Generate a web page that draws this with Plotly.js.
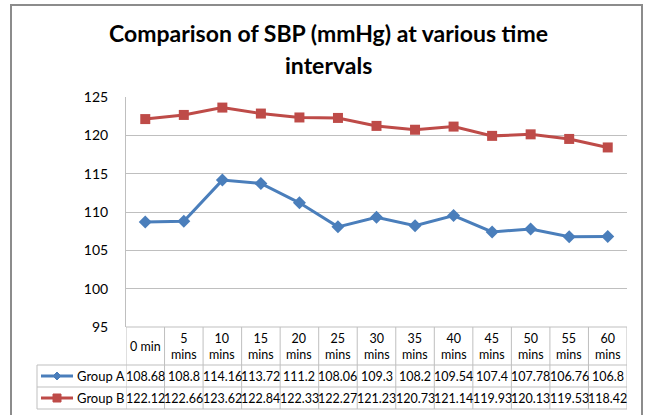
<!DOCTYPE html>
<html>
<head>
<meta charset="utf-8">
<script src="https://cdn.plot.ly/plotly-3.0.1.min.js"></script>
<style>
html,body{margin:0;padding:0;background:#fff;}
#chart{width:648px;height:415px;}
</style>
</head>
<body>
<div id="chart"></div>
<script>
const categories = ['0 min','5 mins','10 mins','15 mins','20 mins','25 mins','30 mins','35 mins','40 mins','45 mins','50 mins','55 mins','60 mins'];
const groupA = [108.68,108.8,114.16,113.72,111.2,108.06,109.3,108.2,109.54,107.4,107.78,106.76,106.8];
const groupB = [122.12,122.66,123.62,122.84,122.33,122.27,121.23,120.73,121.14,119.93,120.13,119.53,118.42];
const seriesNames = ['Group A','Group B'];
const yTicks = [95,100,105,110,115,120,125];
const titleLines = ['Comparison of SBP (mmHg) at various time', 'intervals'];

// pixel geometry helpers (plot area: x 126..627, y 97..327)
const L = 126, R = 627, T = 97, B = 327;
const px2py = y => (B - y) / (B - T);
const px2px = x => (x - L) / (R - L);

const colA = '#4A7EBB', colB = '#BE4B48';
const gridCol = '#BFBFBF';
const font = 'Lato, "Open Sans", sans-serif';

const traces = [
  {x: categories, y: groupA, name: seriesNames[0], type: 'scatter', mode: 'lines+markers',
   line: {color: colA, width: 3}, marker: {symbol: 'diamond', size: 10, color: colA}},
  {x: categories, y: groupB, name: seriesNames[1], type: 'scatter', mode: 'lines+markers',
   line: {color: colB, width: 3}, marker: {symbol: 'square', size: 10, color: colB}}
];

const shapes = [];
const annotations = [];
const rowTop = 365, rowMid = 387, rowBot = 409, legLeft = 37;

// outer border
shapes.push({type:'rect', xref:'paper', yref:'paper', x0: px2px(11), x1: px2px(642), y0: px2py(5), y1: px2py(430),
  line:{color:'#8C8C8C', width:2}, layer:'below'});

// title
const titleY = [33, 65];
titleLines.forEach((t, i) => {
  annotations.push({xref:'paper', yref:'paper', x: px2px(328), y: px2py(titleY[i]), text: '<b>' + t + '</b>', showarrow:false,
    xanchor:'center', yanchor:'middle', font:{family:font, size:23, color:'#000'}});
});

// vertical table lines at category boundaries
for (let i = 0; i <= categories.length; i++) {
  shapes.push({type:'line', xref:'x', yref:'paper', x0: i - 0.5, x1: i - 0.5, y0: px2py(B), y1: px2py(rowBot),
    line:{color:gridCol, width:1}});
}
// legend column box
shapes.push({type:'line', xref:'paper', yref:'paper', x0: px2px(legLeft), x1: px2px(legLeft), y0: px2py(rowTop), y1: px2py(rowBot), line:{color:gridCol, width:1}});
[rowTop, rowMid, rowBot].forEach(yy => {
  shapes.push({type:'line', xref:'paper', yref:'paper', x0: px2px(legLeft), x1: 1, y0: px2py(yy), y1: px2py(yy), line:{color:gridCol, width:1}});
});

// header labels
categories.forEach((c, i) => {
  annotations.push({x: c, xref:'x', yref:'paper', y: px2py((B + rowTop) / 2), text: c.replace(' mins', '<br>mins'),
    showarrow:false, font:{family:font, size:12.5, color:'#000'}, align:'center', yanchor:'middle'});
});
// data rows
const rows = [groupA, groupB];
const rowCenters = [(rowTop + rowMid) / 2, (rowMid + rowBot) / 2];
rows.forEach((vals, r) => {
  vals.forEach((v, i) => {
    annotations.push({x: categories[i], xref:'x', yref:'paper', y: px2py(rowCenters[r]), text: String(v),
      showarrow:false, font:{family:font, size:12.5, color:'#000'}, yanchor:'middle', xanchor:'center'});
  });
});
// legend keys
const legCols = [colA, colB];
rowCenters.forEach((yc, r) => {
  shapes.push({type:'line', xref:'paper', yref:'paper', x0: px2px(41), x1: px2px(73), y0: px2py(yc), y1: px2py(yc), line:{color:legCols[r], width:3}});
  if (r === 0) {
    shapes.push({type:'path', xref:'paper', yref:'paper',
      path: `M ${px2px(57)} ${px2py(yc-4)} L ${px2px(61)} ${px2py(yc)} L ${px2px(57)} ${px2py(yc+4)} L ${px2px(53)} ${px2py(yc)} Z`,
      fillcolor: legCols[r], line:{color:legCols[r], width:1}});
  } else {
    shapes.push({type:'rect', xref:'paper', yref:'paper', x0: px2px(53), x1: px2px(61), y0: px2py(yc-4), y1: px2py(yc+4),
      fillcolor: legCols[r], line:{color:legCols[r], width:1}});
  }
  annotations.push({xref:'paper', yref:'paper', x: px2px(75), y: px2py(yc), text: seriesNames[r], showarrow:false,
    xanchor:'left', yanchor:'middle', font:{family:font, size:13, color:'#000'}});
});

const layout = {
  width: 648, height: 415,
  margin: {l: L, r: 648 - R, t: T, b: 415 - B, pad: 0},
  paper_bgcolor: '#fff', plot_bgcolor: '#fff',
  showlegend: false,
  xaxis: {type: 'category', range: [-0.5, categories.length - 0.5], showticklabels: false, showgrid: false,
    zeroline: false, showline: false, ticks: ''},
  yaxis: {range: [95, 125], tickvals: yTicks, ticktext: yTicks.map(String), showgrid: true, gridcolor: gridCol, gridwidth: 1,
    zeroline: false, showline: true, linecolor: gridCol, linewidth: 1, ticks: '', ticklabelstandoff: 14,
    tickfont: {family: font, size: 14, color: '#000'}},
  shapes: shapes,
  annotations: annotations
};
// bottom axis line (category axis at 95)
layout.shapes.push({type:'line', xref:'paper', yref:'paper', x0:0, x1:1, y0:0, y1:0, line:{color:gridCol, width:1}});

Plotly.newPlot('chart', traces, layout, {displayModeBar: false, staticPlot: true});
</script>
</body>
</html>
